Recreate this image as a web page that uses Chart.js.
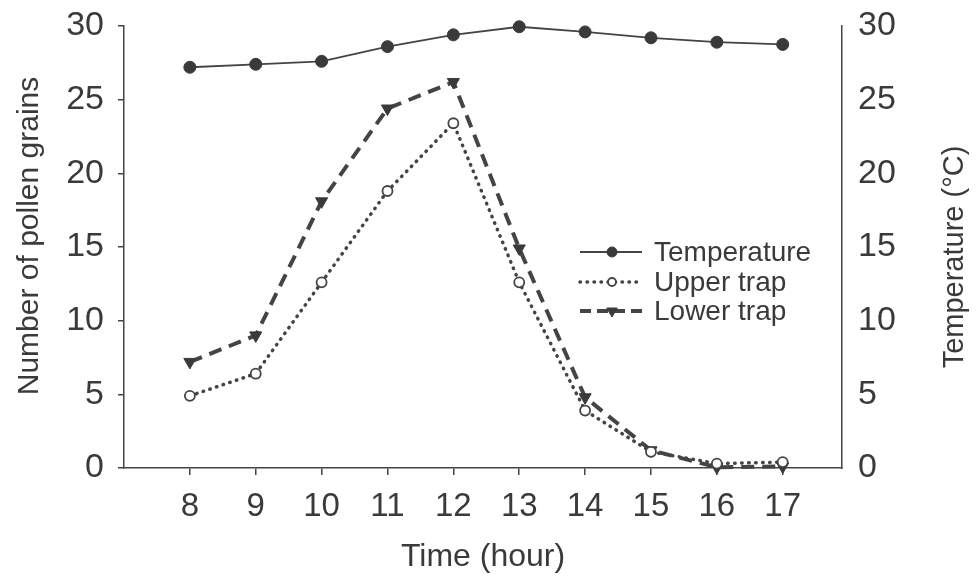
<!DOCTYPE html>
<html>
<head>
<meta charset="utf-8">
<script src="https://cdn.jsdelivr.net/npm/chart.js@4.4.1/dist/chart.umd.min.js"></script>
<style>
  html, body { margin: 0; padding: 0; background: #fff; }
  #wrap { width: 979px; height: 578px; }
</style>
</head>
<body>
<div id="wrap"><canvas id="chart" width="979" height="578"></canvas></div>
<script>
// values
const hours = [8, 9, 10, 11, 12, 13, 14, 15, 16, 17];
const temperature = [27.2, 27.4, 27.6, 28.6, 29.4, 29.95, 29.6, 29.2, 28.9, 28.75];
const upperTrap = [4.9, 6.4, 12.6, 18.8, 23.4, 12.6, 3.9, 1.1, 0.3, 0.4];
const lowerTrap = [7.2, 9.0, 18.1, 24.4, 26.2, 14.9, 4.8, 1.2, 0.05, 0.1];
const legendLabels = ['Temperature', 'Upper trap', 'Lower trap'];

const ink = '#444';
const textColor = '#3a3a3a';
const fontFamily = '"Liberation Sans", Arial, sans-serif';

function toPoints(values) {
  return hours.map((h, i) => ({ x: h, y: values[i] }));
}

const datasets = [
  {
    label: legendLabels[0],
    data: toPoints(temperature),
    yAxisID: 'y2',
    borderColor: ink,
    borderWidth: 1.8,
    pointStyle: 'circle',
    pointRadius: 6,
    pointBackgroundColor: '#3a3a3a',
    pointBorderColor: '#3a3a3a',
    pointBorderWidth: 1,
    clip: false
  },
  {
    label: legendLabels[1],
    data: toPoints(upperTrap),
    yAxisID: 'y',
    borderColor: ink,
    borderWidth: 3.5,
    borderDash: [0.5, 6.5],
    borderCapStyle: 'round',
    pointStyle: 'circle',
    pointRadius: 5,
    pointBackgroundColor: '#fff',
    pointBorderColor: ink,
    pointBorderWidth: 1.8,
    clip: false
  },
  {
    label: legendLabels[2],
    data: toPoints(lowerTrap),
    yAxisID: 'y',
    borderColor: ink,
    borderWidth: 4,
    borderDash: [13, 8],
    pointStyle: 'triangle',
    pointRotation: 180,
    pointRadius: 7,
    pointBackgroundColor: '#3a3a3a',
    pointBorderColor: '#3a3a3a',
    pointBorderWidth: 1,
    clip: false
  }
];

function verticalText(ctx, text, x, y, size) {
  ctx.save();
  ctx.translate(x, y);
  ctx.rotate(-Math.PI / 2);
  ctx.font = size + 'px ' + fontFamily;
  ctx.fillStyle = textColor;
  ctx.textAlign = 'center';
  ctx.textBaseline = 'middle';
  ctx.fillText(text, 0, 0);
  ctx.restore();
}

// legend drawn inside the plot, plus both axis titles reading upward
const extras = {
  id: 'extras',
  afterDraw(chart) {
    const ctx = chart.ctx;
    ctx.save();
    const rows = [252, 282, 311];
    chart.data.datasets.forEach((ds, i) => {
      const y = rows[i];
      ctx.strokeStyle = ds.borderColor;
      ctx.lineWidth = i === 0 ? 1.8 : ds.borderWidth;
      ctx.lineCap = ds.borderCapStyle || 'butt';
      ctx.setLineDash(i === 2 ? [11, 6] : (ds.borderDash || []));
      ctx.beginPath();
      ctx.moveTo(580, y);
      ctx.lineTo(642, y);
      ctx.stroke();
      ctx.setLineDash([]);
      ctx.fillStyle = ds.pointBackgroundColor;
      ctx.strokeStyle = ds.pointBorderColor;
      ctx.lineWidth = ds.pointBorderWidth;
      Chart.helpers.drawPoint(ctx, {
        pointStyle: ds.pointStyle,
        radius: ds.pointRadius - 1,
        rotation: ds.pointRotation || 0,
        borderWidth: ds.pointBorderWidth
      }, 612, y);
      ctx.fillStyle = textColor;
      ctx.font = '28px ' + fontFamily;
      ctx.textAlign = 'left';
      ctx.textBaseline = 'middle';
      ctx.fillText(ds.label, 654, y + 1);
    });
    ctx.restore();

    verticalText(ctx, 'Number of pollen grains', 30, 236, 30);
    verticalText(ctx, 'Temperature (\u00B0C)', 955, 257, 29);
  }
};

function fixWidth(w) {
  return (scale) => {
    scale.width = w;
    scale.paddingTop = 0;
    scale.paddingBottom = 0;
  };
}

new Chart(document.getElementById('chart'), {
  type: 'line',
  data: { datasets },
  options: {
    responsive: false,
    animation: false,
    devicePixelRatio: 1,
    layout: { padding: { top: 26, right: 0, left: 0, bottom: 0 } },
    elements: { line: { tension: 0 } },
    plugins: {
      legend: { display: false },
      tooltip: { enabled: false }
    },
    scales: {
      x: {
        type: 'linear',
        min: 7,
        max: 17.9,
        afterBuildTicks: (scale) => {
          scale.ticks = hours.map(h => ({ value: h }));
        },
        afterFit: (scale) => {
          scale.height = 110;
          scale.paddingLeft = 0;
          scale.paddingRight = 0;
        },
        grid: { drawOnChartArea: false, tickLength: 7, color: ink, lineWidth: 1.5 },
        border: { color: ink, width: 1.5 },
        ticks: {
          color: textColor,
          font: { family: fontFamily, size: 33 },
          padding: 12,
          maxRotation: 0
        },
        title: {
          display: true,
          text: 'Time (hour)',
          color: textColor,
          font: { family: fontFamily, size: 32 },
          padding: { top: 0, bottom: 2 }
        }
      },
      y: {
        position: 'left',
        min: 0,
        max: 30,
        afterFit: fixWidth(124),
        grid: { drawOnChartArea: false, tickLength: 6, color: ink, lineWidth: 1.5 },
        border: { color: ink, width: 1.5 },
        ticks: {
          stepSize: 5,
          color: textColor,
          font: { family: fontFamily, size: 34 },
          padding: 14
        }
      },
      y2: {
        position: 'right',
        min: 0,
        max: 30,
        afterFit: fixWidth(137),
        grid: { display: false, drawTicks: false },
        border: { display: true, color: ink, width: 1.5 },
        ticks: {
          stepSize: 5,
          color: textColor,
          font: { family: fontFamily, size: 34 },
          padding: 16
        }
      }
    }
  },
  plugins: [extras]
});
</script>
</body>
</html>
